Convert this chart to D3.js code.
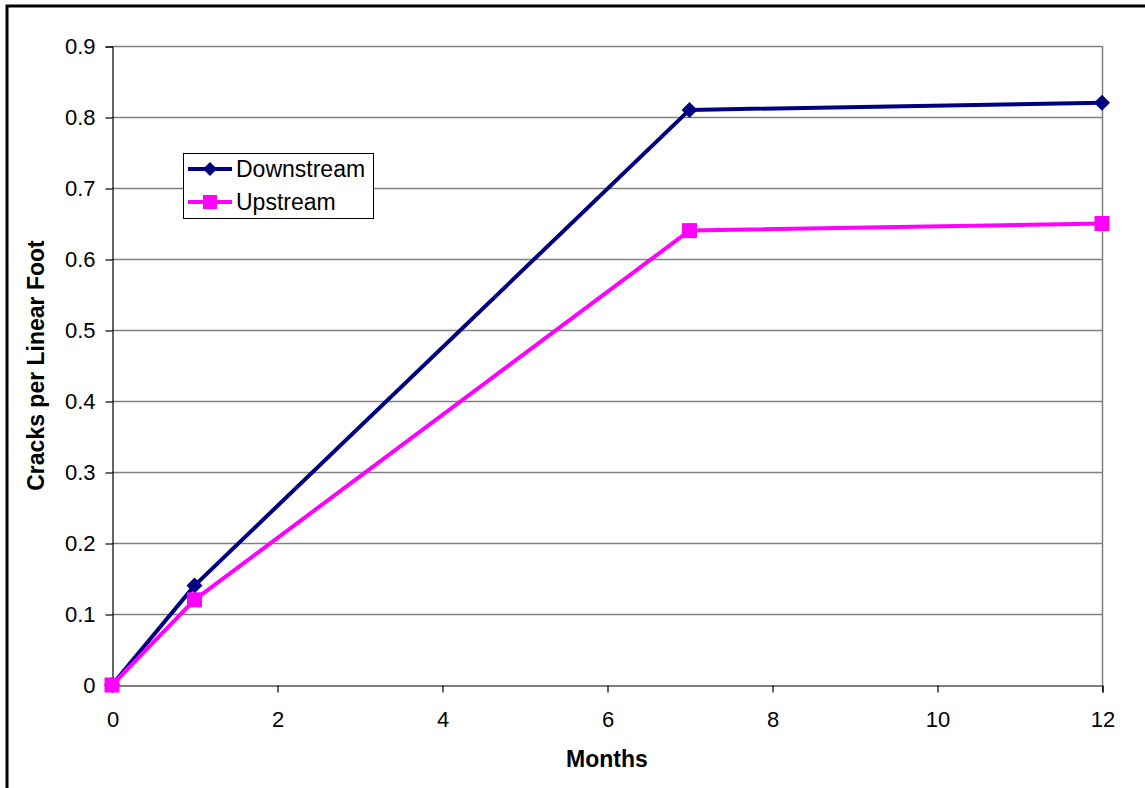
<!DOCTYPE html>
<html>
<head>
<meta charset="utf-8">
<script src="https://cdn.jsdelivr.net/npm/d3@7/dist/d3.min.js"></script>
<style>
  html, body { margin: 0; padding: 0; background: #fff; }
  svg { display: block; font-family: Arial, "Liberation Sans", sans-serif; }
</style>
</head>
<body>
<svg id="chart" width="1145" height="788"></svg>
<script>
// Crack density over time for both sides
const months = [0, 1, 7, 12];
const downstream = [0, 0.14, 0.81, 0.82];
const upstream = [0, 0.12, 0.64, 0.65];
const xTicks = [0, 2, 4, 6, 8, 10, 12];
const yTicks = [0, 0.1, 0.2, 0.3, 0.4, 0.5, 0.6, 0.7, 0.8, 0.9];
const seriesNames = ["Downstream", "Upstream"];
const seriesColors = ["#000080", "#FF00FF"];

const svg = d3.select("#chart");

// Outer frame
svg.append("rect")
  .attr("x", 7).attr("y", 6)
  .attr("width", 1160).attr("height", 800)
  .attr("fill", "none").attr("stroke", "#000").attr("stroke-width", 3);

const plot = { left: 112, right: 1102, top: 46, bottom: 685 };

const x = d3.scaleLinear().domain([0, 12]).range([plot.left, plot.right]);
const y = d3.scaleLinear().domain([0, 0.9]).range([plot.bottom, plot.top]);

// Horizontal gridlines
svg.append("g")
  .selectAll("line")
  .data(yTicks.filter(v => v > 0))
  .join("line")
  .attr("x1", plot.left).attr("x2", plot.right)
  .attr("y1", d => Math.round(y(d)) + 0.5).attr("y2", d => Math.round(y(d)) + 0.5)
  .attr("stroke", "#808080").attr("stroke-width", 1.5);

// Right edge of plot area
svg.append("line")
  .attr("x1", plot.right + 0.5).attr("x2", plot.right + 0.5)
  .attr("y1", plot.top).attr("y2", plot.bottom)
  .attr("stroke", "#808080").attr("stroke-width", 1.5);

// Y axis
const yAxis = d3.axisLeft(y).tickValues(yTicks).tickSize(7).tickPadding(10)
  .tickFormat(d => d === 0 ? "0" : d3.format(".1f")(d));
const gy = svg.append("g")
  .attr("transform", `translate(${plot.left + 0.5},0.5)`)
  .call(yAxis);
gy.select(".domain").attr("stroke", "#000").attr("stroke-width", 1.2);
gy.selectAll(".tick line").attr("stroke", "#000").attr("stroke-width", 1.2);
gy.selectAll(".tick text").attr("font-size", 22).attr("fill", "#000")
  .attr("font-family", "Arial, 'Liberation Sans', sans-serif");

// X axis
const xAxis = d3.axisBottom(x).tickValues(xTicks).tickSize(7).tickPadding(8)
  .tickFormat(d3.format("d"));
const gx = svg.append("g")
  .attr("transform", `translate(0.5,${plot.bottom + 0.5})`)
  .call(xAxis);
gx.select(".domain").attr("stroke", "#000").attr("stroke-width", 1.2);
gx.selectAll(".tick line").attr("stroke", "#000").attr("stroke-width", 1.2);
gx.selectAll(".tick text").attr("font-size", 22).attr("fill", "#000")
  .attr("font-family", "Arial, 'Liberation Sans', sans-serif")
  .attr("dy", null).attr("y", 41);

// Axis titles
svg.append("text")
  .attr("x", (plot.left + plot.right) / 2).attr("y", 767)
  .attr("text-anchor", "middle")
  .attr("font-size", 23).attr("font-weight", "bold")
  .text("Months");

svg.append("text")
  .attr("transform", `translate(44,${(plot.top + plot.bottom) / 2}) rotate(-90)`)
  .attr("text-anchor", "middle")
  .attr("font-size", 23).attr("font-weight", "bold")
  .text("Cracks per Linear Foot");

// Series lines and markers
const line = d3.line().x(d => x(d[0])).y(d => y(d[1]));
const seriesData = [downstream, upstream].map(vals => months.map((m, i) => [m, vals[i]]));

seriesData.forEach((pts, si) => {
  svg.append("path")
    .datum(pts)
    .attr("fill", "none")
    .attr("stroke", seriesColors[si])
    .attr("stroke-width", 4)
    .attr("stroke-linejoin", "round")
    .attr("d", line);
});

function drawMarker(g, cx, cy, si, size) {
  if (si === 0) {
    const r = size / 2;
    g.append("path")
      .attr("d", `M${cx},${cy - r}L${cx + r},${cy}L${cx},${cy + r}L${cx - r},${cy}Z`)
      .attr("fill", seriesColors[0]);
  } else {
    const s = size;
    g.append("rect")
      .attr("x", cx - s / 2).attr("y", cy - s / 2)
      .attr("width", s).attr("height", s)
      .attr("fill", seriesColors[1]);
  }
}

const markers = svg.append("g");
seriesData.forEach((pts, si) => {
  pts.forEach(p => drawMarker(markers, x(p[0]), y(p[1]), si, si === 0 ? 16 : 15));
});

// Legend
const legend = svg.append("g");
legend.append("rect")
  .attr("x", 183.5).attr("y", 153.5)
  .attr("width", 190).attr("height", 65)
  .attr("fill", "#fff").attr("stroke", "#000").attr("stroke-width", 1);

seriesNames.forEach((name, si) => {
  const cy = 169 + si * 33;
  legend.append("line")
    .attr("x1", 188).attr("x2", 232)
    .attr("y1", cy).attr("y2", cy)
    .attr("stroke", seriesColors[si]).attr("stroke-width", 4);
  drawMarker(legend, 210, cy, si, 14);
  legend.append("text")
    .attr("x", 236).attr("y", cy + 8)
    .attr("font-size", 23).attr("fill", "#000")
    .text(name);
});
</script>
</body>
</html>
